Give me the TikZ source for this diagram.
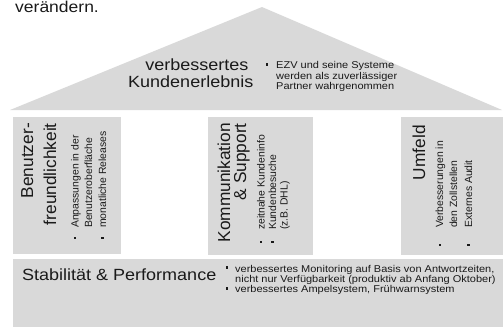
\documentclass[tikz,border=0pt]{standalone}
\usepackage{fontspec}
\setmainfont{Liberation Sans}
\usepackage{graphicx}
\definecolor{boxgray}{HTML}{D9D9D9}
\definecolor{ink}{HTML}{1A1A1A}
\newcommand\squish[1]{\scalebox{1}[0.9]{#1}}
\begin{document}
\begin{tikzpicture}[x=1pt,y=-1pt,
  big/.style={inner sep=0, text=ink, font=\fontsize{18}{20}\selectfont},
  bigr/.style={inner sep=0, text=ink, rotate=90, anchor=base east, font=\fontsize{17.3}{20}\selectfont},
  small/.style={inner sep=0, text=ink, anchor=base west, font=\fontsize{11}{12}\selectfont},
  smallr/.style={inner sep=0, text=ink, rotate=90, anchor=base west, font=\fontsize{10.4}{12}\selectfont},
  bul/.style={fill=ink, inner sep=0, minimum size=2.4pt, rectangle}]
\useasboundingbox (0,0) rectangle (503,327);
% shapes
\coordinate (roofL) at (10,110);
\coordinate (roofT) at (262,7);
\coordinate (roofR) at (502,110);
\fill[boxgray] (roofL) -- (roofT) -- (roofR) -- cycle;
\fill[boxgray] (13,117) rectangle (121,254);
\fill[boxgray] (208,117) rectangle (313,255);
\fill[boxgray] (401,117) rectangle (503,255);
\fill[boxgray] (13,259) rectangle (503,327);
% top text
\node[big, anchor=base west, font=\fontsize{17.5}{20}\selectfont] (top) at (15,12) {\squish{verändern.}};
% roof
\node[big, anchor=base east] (rt1) at (248.5,70) {\squish{verbessertes}};
\node[big, anchor=base east] (rt2) at (253.5,87) {\squish{Kundenerlebnis}};
\node[bul] (rb) at (267,64.5) {};
\node[small] (rl1) at (276,68.5) {\squish{EZV und seine Systeme}};
\node[small] (rl2) at (276,79) {\squish{werden als zuverlässiger}};
\node[small] (rl3) at (276,89) {\squish{Partner wahrgenommen}};
% left pillar
\node[bigr] (lt1) at (33,123) {Benutzer-};
\node[bigr] (lt2) at (56,123) {freundlichkeit};
\node[bul] (lb1) at (75,238) {};
\node[smallr] (ll1) at (78.5,228) {Anpassungen in der};
\node[smallr] (ll2) at (92,228) {Benutzeroberfläche};
\node[bul] (lb2) at (102.5,238) {};
\node[smallr] (ll3) at (106,228) {monatliche Releases};
% middle pillar
\node[bigr] (mt1) at (230,123) {Kommunikation};
\node[bigr] (mt2) at (246,123) {\& Support};
\node[bul] (mb1) at (261,242) {};
\node[smallr] (ml1) at (264.5,230) {zeitnahe Kundeninfo};
\node[bul] (mb2) at (272.5,242) {};
\node[smallr] (ml2) at (276,230) {Kundenbesuche};
\node[smallr] (ml3) at (287.5,230) {(z.B. DHL)};
% right pillar
\node[bigr] (ut) at (425,125) {Umfeld};
\node[bul] (ub1) at (440,245) {};
\node[smallr] (ul1) at (443,228) {Verbesserungen in};
\node[smallr] (ul2) at (457,228) {den Zollstellen};
\node[bul] (ub2) at (468.5,245) {};
\node[smallr] (ul3) at (472,228) {Externes Audit};
% bottom
\node[big, anchor=base west] (bt) at (22,280) {\squish{Stabilität \& Performance}};
\node[bul] (bb1) at (227,267.5) {};
\node[small] (bl1) at (235,272) {\squish{verbessertes Monitoring auf Basis von Antwortzeiten,}};
\node[small] (bl2) at (235,282.5) {\squish{nicht nur Verfügbarkeit (produktiv ab Anfang Oktober)}};
\node[bul] (bb2) at (227,288.5) {};
\node[small] (bl3) at (235,292.5) {\squish{verbessertes Ampelsystem, Frühwarnsystem}};
\end{tikzpicture}
\end{document}
